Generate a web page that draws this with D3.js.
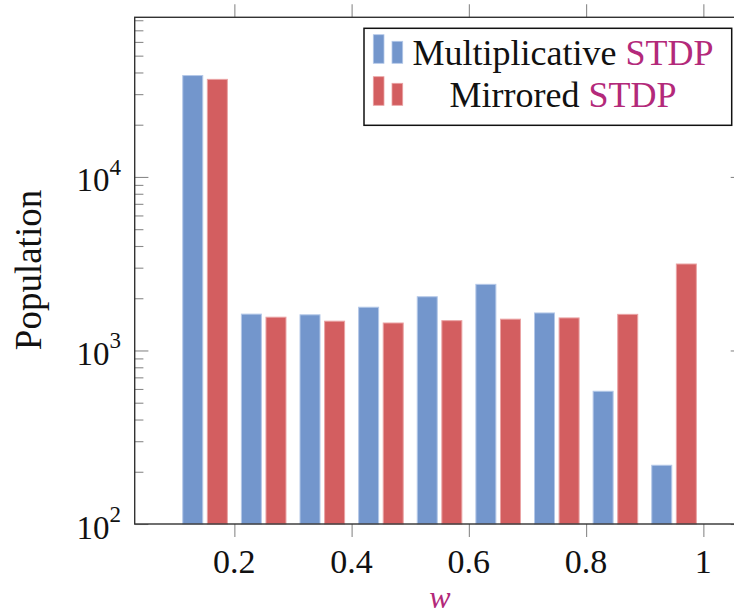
<!DOCTYPE html>
<html>
<head>
<meta charset="utf-8">
<script src="https://cdn.jsdelivr.net/npm/d3@7"></script>
<style>
  html, body { margin: 0; padding: 0; background: #fff; }
  svg { display: block; }
  text { font-family: "Liberation Serif", "DejaVu Serif", serif; fill: #111; }
</style>
</head>
<body>
<svg id="chart" width="734" height="615"></svg>
<script>
// ---- data ----
const binCenters = [0.15, 0.25, 0.35, 0.45, 0.55, 0.65, 0.75, 0.85, 0.95];
const multiplicative = [38400, 1620, 1605, 1775, 2040, 2405, 1645, 582, 218];
const mirrored = [36500, 1555, 1475, 1440, 1485, 1515, 1540, 1615, 3150];
const seriesNames = ["Multiplicative", "Mirrored"];
const xTickValues = [0.2, 0.4, 0.6, 0.8, 1];
const xTickLabels = ["0.2", "0.4", "0.6", "0.8", "1"];
const yMajorTicks = [100, 1000, 10000];
const yMajorExponents = ["2", "3", "4"];

(function () {
// ---- layout ----
const svg = d3.select("#chart");
const pLeft = 134.7, pRight = 744.4, pTop = 17.3, pBottom = 524;
const x = d3.scaleLinear().domain([0.03, 1.07]).range([pLeft, pRight]);
const y = d3.scaleLog().domain([100, Math.pow(10, 4.92)]).range([pBottom, pTop]);

const blue = "#7396cc", red = "#d35e60";
const magenta = "#b3297a";
const barW = 20, barOff = 12.3;

// bars
const series = [
  { name: seriesNames[0], values: multiplicative, color: blue, edge: "#b4c8e8", off: -barOff },
  { name: seriesNames[1], values: mirrored, color: red, edge: "#eaa3a4", off: barOff }
];
const plot = svg.append("g");
series.forEach(s => {
  plot.selectAll(null).data(binCenters).enter().append("rect")
    .attr("x", (d) => x(d) + s.off - barW / 2)
    .attr("width", barW)
    .attr("y", (d, i) => y(s.values[i]))
    .attr("height", (d, i) => pBottom - y(s.values[i]))
    .attr("fill", s.color)
    .attr("stroke", s.edge)
    .attr("stroke-width", 1);
});

// minor y ticks
const minor = [];
for (let e = 2; e <= 4; e++) for (let m = 2; m <= 9; m++) {
  const v = m * Math.pow(10, e);
  if (v <= y.domain()[1]) minor.push(v);
}

function styleAxis(g) {
  g.select(".domain").remove();
  g.selectAll(".tick line").attr("stroke", "#8a8a8a").attr("stroke-width", 1.1);
  g.selectAll(".tick text").remove();
}

// x ticks bottom (outside) and top (outside)
svg.append("g").attr("transform", `translate(0,${pBottom})`)
  .call(d3.axisBottom(x).tickValues(xTickValues).tickSize(13).tickFormat(""))
  .call(styleAxis);
svg.append("g").attr("transform", `translate(0,${pTop})`)
  .call(d3.axisTop(x).tickValues(xTickValues).tickSize(13).tickFormat(""))
  .call(styleAxis);

// y ticks left (inside) and right (inside)
svg.append("g").attr("transform", `translate(${pLeft},0)`)
  .call(d3.axisLeft(y).tickValues(minor).tickSize(-8.7).tickFormat(""))
  .call(styleAxis);
svg.append("g").attr("transform", `translate(${pLeft},0)`)
  .call(d3.axisLeft(y).tickValues(yMajorTicks).tickSize(-13.7).tickFormat(""))
  .call(styleAxis);
svg.append("g").attr("transform", `translate(${pRight},0)`)
  .call(d3.axisRight(y).tickValues(minor).tickSize(-8.7).tickFormat(""))
  .call(styleAxis);
svg.append("g").attr("transform", `translate(${pRight},0)`)
  .call(d3.axisRight(y).tickValues(yMajorTicks).tickSize(-13.7).tickFormat(""))
  .call(styleAxis);

// frame
svg.append("rect")
  .attr("x", pLeft).attr("y", pTop)
  .attr("width", pRight - pLeft).attr("height", pBottom - pTop)
  .attr("fill", "none").attr("stroke", "#333").attr("stroke-width", 1.4);

// x tick labels
svg.selectAll(null).data(xTickValues).enter().append("text")
  .attr("x", d => x(d)).attr("y", pBottom + 48.7)
  .attr("text-anchor", "middle")
  .attr("font-size", 34)
  .text((d, i) => xTickLabels[i]);

// y tick labels 10^k
yMajorTicks.forEach((v, i) => {
  const t = svg.append("text")
    .attr("x", 121).attr("y", y(v) + 14.5)
    .attr("text-anchor", "end")
    .attr("font-size", 33);
  t.append("tspan").text("10");
  t.append("tspan").attr("font-size", 23).attr("dy", -16.5).text(yMajorExponents[i]);
});

// axis labels
svg.append("text")
  .attr("transform", `translate(41,270) rotate(-90)`)
  .attr("text-anchor", "middle")
  .attr("font-size", 37)
  .text("Population");
svg.append("text")
  .attr("x", 440).attr("y", 608)
  .attr("text-anchor", "middle")
  .attr("font-size", 32)
  .attr("font-style", "italic")
  .style("fill", magenta)
  .text("w");

// legend
const lg = svg.append("g");
lg.append("rect")
  .attr("x", 364).attr("y", 28.3).attr("width", 367.7).attr("height", 97)
  .attr("fill", "#fff").attr("stroke", "#111").attr("stroke-width", 1.5);
const legendRows = [
  { s: series[0], base: 63.3, label: seriesNames[0] },
  { s: series[1], base: 105.3, label: seriesNames[1] }
];
legendRows.forEach(r => {
  lg.append("rect").attr("x", 373.3).attr("width", 10.7)
    .attr("y", r.base - 28.6).attr("height", 28.6)
    .attr("fill", r.s.color).attr("stroke", r.s.edge).attr("stroke-width", 0.8);
  lg.append("rect").attr("x", 392).attr("width", 10.7)
    .attr("y", r.base - 22).attr("height", 22)
    .attr("fill", r.s.color).attr("stroke", r.s.edge).attr("stroke-width", 0.8);
  const t = lg.append("text")
    .attr("x", 563).attr("y", r.base + 1.8)
    .attr("text-anchor", "middle")
    .attr("font-size", 36);
  t.append("tspan").text(r.label + " ");
  t.append("tspan").style("fill", magenta).text("STDP");
});
})();
</script>
</body>
</html>
